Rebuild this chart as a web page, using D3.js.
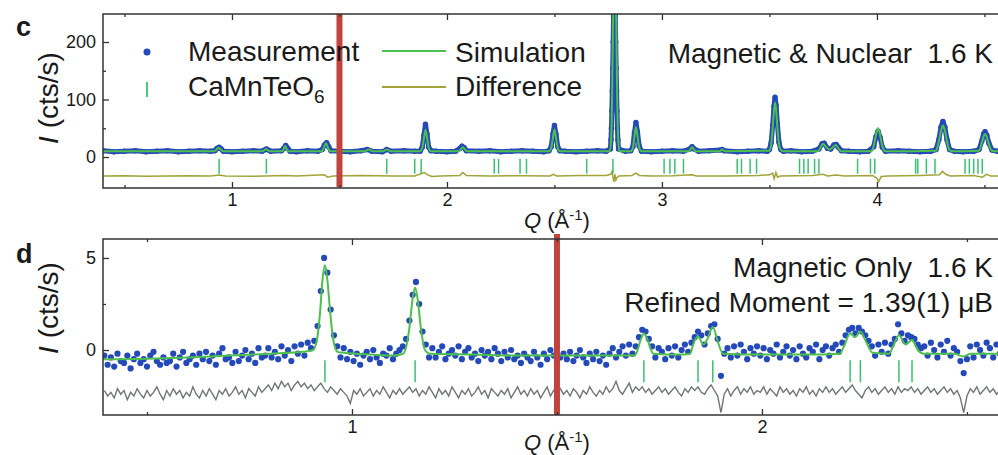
<!DOCTYPE html>
<html>
<head>
<meta charset="utf-8">
<script src="https://cdn.jsdelivr.net/npm/d3@7"></script>
<style>
body { margin: 0; background: #fff; }
svg text { font-family: "Liberation Sans", Arial, sans-serif; fill: #1a1a1a; }
</style>
</head>
<body>
<script>
// ---- panel c : magnetic & nuclear, [Q, I] pairs ----
var topObs = [[0.40,11],[0.45,9],[0.50,10],[0.55,11],[0.60,9],[0.65,10],[0.70,11],[0.75,9],[0.80,10],[0.85,11],[0.90,10],
  [0.92,11],[0.93,15],[0.94,17],[0.95,14],[0.96,10],[1.00,9],[1.05,10],[1.10,11],[1.14,10],[1.15,12],[1.16,14],[1.17,12],[1.18,10],
  [1.23,11],[1.24,15],[1.25,20],[1.26,15],[1.27,10],[1.30,9],[1.35,11],[1.40,10],[1.42,13],[1.43,21],[1.44,25],[1.45,18],[1.46,11],
  [1.50,10],[1.55,9],[1.60,11],[1.63,13],[1.65,10],[1.70,9],[1.72,13],[1.74,10],[1.80,11],[1.85,10],
  [1.875,10],[1.885,17],[1.893,38],[1.90,57],[1.907,40],[1.915,17],[1.925,11],
  [1.95,10],[2.00,9],[2.04,10],[2.06,15],[2.07,19],[2.08,16],[2.09,11],
  [2.15,10],[2.20,11],[2.25,9],[2.30,10],[2.35,11],[2.40,10],[2.45,9],[2.475,11],
  [2.485,18],[2.493,40],[2.50,55],[2.507,40],[2.515,18],[2.525,11],
  [2.55,10],[2.60,9],[2.65,10],[2.70,11],[2.74,10],
  [2.760,14],[2.763,30],[2.765,50],[2.767,80],[2.769,115],[2.771,155],[2.773,200],[2.775,245],[2.778,300],
  [2.781,300],[2.783,245],[2.785,200],[2.787,155],[2.789,115],[2.791,80],[2.793,50],[2.795,30],[2.798,14],
  [2.83,10],[2.855,11],[2.865,18],[2.872,42],[2.879,60],[2.886,44],[2.894,19],[2.905,10],
  [2.95,9],[3.00,10],[3.05,11],[3.10,10],[3.13,14],[3.14,18],[3.15,14],[3.17,10],[3.22,11],[3.27,12],[3.28,13],[3.29,11],
  [3.35,9],[3.40,10],[3.45,11],[3.49,10],
  [3.50,13],[3.508,25],[3.515,55],[3.521,88],[3.526,104],[3.531,90],[3.537,58],[3.544,26],[3.553,13],[3.565,10],
  [3.60,11],[3.65,9],[3.70,10],[3.73,14],[3.745,23],[3.755,24],[3.77,15],[3.785,14],[3.80,21],[3.81,22],[3.82,17],[3.835,11],
  [3.87,10],[3.92,9],[3.96,10],[3.985,18],[3.995,35],[4.005,45],[4.015,34],[4.025,17],[4.04,10],
  [4.10,11],[4.15,10],[4.20,9],[4.25,10],[4.275,13],[4.288,30],[4.298,52],[4.307,62],[4.316,52],[4.326,30],[4.338,13],[4.36,10],
  [4.40,9],[4.45,10],[4.475,13],[4.488,28],[4.496,40],[4.503,44],[4.511,38],[4.521,24],[4.535,12],[4.56,10],[4.62,10]];

var topSim = [[0.40,10],[0.915,10],[0.928,13],[0.938,16],[0.948,13],[0.96,10],
  [1.142,10],[1.15,12],[1.158,14],[1.166,12],[1.175,10],
  [1.232,10],[1.24,14],[1.247,19],[1.254,14],[1.262,10],
  [1.418,10],[1.428,17],[1.437,24],[1.446,17],[1.456,10],
  [1.618,10],[1.628,12],[1.636,13],[1.644,12],[1.654,10],
  [1.705,10],[1.713,12],[1.72,13],[1.727,12],[1.735,10],
  [1.875,10],[1.885,16],[1.893,33],[1.90,47],[1.907,34],[1.915,16],[1.925,10],
  [2.055,10],[2.066,14],[2.074,17],[2.082,14],[2.093,10],
  [2.475,10],[2.485,16],[2.493,34],[2.50,48],[2.507,34],[2.515,16],[2.525,10],
  [2.758,10],[2.764,35],[2.768,100],[2.772,220],[2.776,320],[2.78,340],[2.784,320],[2.788,220],[2.792,100],[2.796,35],[2.802,10],
  [2.855,10],[2.865,16],[2.872,36],[2.879,52],[2.886,37],[2.894,17],[2.905,10],
  [3.125,10],[3.133,14],[3.14,17],[3.147,14],[3.157,10],
  [3.268,10],[3.275,12],[3.28,13],[3.285,12],[3.293,10],
  [3.50,11],[3.508,22],[3.515,50],[3.521,80],[3.526,95],[3.531,82],[3.537,52],[3.544,24],[3.553,12],[3.565,10],
  [3.725,10],[3.737,16],[3.749,23],[3.76,19],[3.78,13],[3.795,17],[3.809,21],[3.82,15],[3.835,10],
  [3.975,10],[3.985,19],[3.995,38],[4.005,50],[4.015,38],[4.025,19],[4.04,10],
  [4.275,11],[4.288,27],[4.298,46],[4.307,55],[4.316,46],[4.326,27],[4.338,12],[4.355,10],
  [4.475,11],[4.488,25],[4.496,36],[4.503,40],[4.511,35],[4.521,22],[4.535,11],[4.56,10],[4.62,10]];

var topDiff = [[0.40,-33],[0.50,-32.5],[0.60,-33.5],[0.70,-33],[0.80,-32.5],[0.90,-33],[0.94,-31.5],[0.97,-33],[1.10,-33.5],
  [1.25,-32],[1.30,-33],[1.43,-31],[1.445,-35],[1.47,-33],[1.60,-32],[1.75,-33],[1.85,-33],[1.895,-27],[1.91,-31],[1.93,-34],
  [1.97,-33],[2.06,-32],[2.074,-27],[2.09,-32],[2.20,-33],[2.35,-32.5],[2.48,-33],[2.495,-30],[2.51,-33],[2.62,-32],[2.74,-32],
  [2.762,-30],[2.768,-25],[2.773,-37],[2.777,-43],[2.781,-30],[2.786,-40],[2.79,-36],[2.80,-33],[2.86,-32],[2.879,-28],[2.895,-32],
  [2.95,-33],[3.05,-32.5],[3.14,-31],[3.16,-33],[3.30,-33],[3.45,-32],[3.50,-31],[3.515,-28],[3.522,-38],[3.53,-27],[3.538,-35],
  [3.55,-33],[3.70,-32],[3.75,-30],[3.77,-33],[3.81,-31.5],[3.85,-33],[3.98,-32],[4.00,-37],[4.008,-43],[4.02,-34],[4.05,-33],
  [4.20,-32],[4.29,-31],[4.305,-25],[4.32,-30],[4.34,-33],[4.45,-32],[4.49,-35],[4.51,-30],[4.53,-33],[4.62,-33]];

var topRefl = [0.94,1.16,1.72,1.85,1.88,2.22,2.24,2.34,2.37,2.65,2.772,3.01,3.037,3.06,3.10,3.35,3.37,3.41,3.44,
  3.64,3.66,3.68,3.71,3.73,3.91,3.97,3.99,4.18,4.19,4.23,4.27,4.41,4.43,4.45,4.47,4.49];

// ---- panel d : magnetic only, measured on a constant Q step ----
var botQ0 = 0.396, botStep = 0.008;
var botObs = [
  -0.3,-0.8,-0.4,-0.9,-0.2,-0.6,-0.7,-0.3,-1.0,-0.5,
  -0.2,-0.7,-0.5,-0.9,-0.3,-0.1,-0.6,-0.8,-0.4,-0.7,
  -0.6,-0.2,-0.9,-0.4,-0.1,-0.7,-0.5,-0.3,-0.8,-0.2,
  -0.5,-0.1,-0.6,-0.3,-0.8,-0.2,0.1,-0.5,-0.4,-0.7,
  -0.1,-0.6,-0.3,0.0,-0.5,-0.2,-0.7,0.1,-0.4,-0.3,
  0.1,-0.4,-0.1,-0.5,0.2,-0.3,0.0,-0.6,0.2,-0.2,
  0.3,-0.3,0.4,0.1,0.5,1.3,3.2,5.0,4.2,2.2,
  0.8,0.2,-0.4,0.1,-0.5,-0.1,-0.6,-0.2,-0.8,-0.3,
  -0.1,-0.5,0.0,-0.4,-0.7,-0.2,-0.3,0.1,-0.5,-0.2,
  0.0,0.2,0.6,1.6,3.0,3.7,2.5,1.0,0.3,-0.4,
  0.1,-0.4,-0.1,0.2,-0.5,-0.2,0.0,-0.3,0.2,-0.5,
  -0.1,0.1,-0.4,-0.2,-0.6,0.0,-0.3,-0.1,-0.5,0.1,
  -0.2,-0.6,-0.1,-0.4,0.0,-0.5,-0.3,-0.7,-0.2,-0.4,
  -0.6,-0.1,-0.4,-0.8,-0.2,-0.5,0.0,-0.3,-0.7,-0.4,
  -0.2,-0.5,-0.1,-0.6,-0.3,0.0,-0.4,-0.7,-0.2,-0.5,
  -0.1,-0.6,-0.3,-0.8,-0.2,0.1,-0.4,-0.1,0.2,-0.3,
  0.3,-0.2,0.2,0.7,1.1,1.0,0.6,0.2,-0.4,0.1,
  -0.1,-0.5,0.1,-0.3,0.2,-0.4,0.0,0.3,-0.1,0.4,
  0.7,1.0,0.8,0.3,0.9,1.3,1.4,0.6,-1.4,-0.2,
  0.1,-0.4,0.2,-0.3,0.3,-0.1,-0.5,0.1,-0.2,0.2,
  -0.3,0.1,-0.5,0.0,-0.2,0.3,-0.4,-0.1,0.2,-0.3,
  0.0,-0.5,0.2,-0.2,-0.4,0.1,-0.1,0.3,-0.5,0.0,
  0.2,-0.3,0.1,0.3,-0.1,0.4,0.8,1.1,1.2,0.9,
  1.2,1.0,0.8,0.5,0.2,-0.3,0.3,-0.1,0.4,-0.2,
  0.3,0.6,1.4,0.9,0.5,0.8,0.7,0.6,0.3,0.1,
  0.2,-0.3,0.4,0.0,-0.4,0.3,-0.1,0.5,-0.3,0.1,
  -0.1,-0.6,-1.25,-0.5,0.2,-0.4,0.3,0.0,-0.3,0.4,
  0.1,-0.4,0.3,-0.2,0.4,-0.1,0.2];

var botDiff = [
  -2.2,-2.5,-2.3,-2.6,-2.1,-2.4,-2.2,-2.7,-2.3,-2.5,
  -2.1,-2.4,-2.6,-2.2,-2.5,-2.3,-2.0,-2.4,-2.7,-2.2,
  -2.5,-2.1,-2.4,-2.2,-2.6,-2.3,-2.5,-2.0,-2.4,-2.6,
  -2.2,-2.5,-2.1,-2.4,-2.7,-2.2,-2.4,-2.1,-2.5,-2.3,
  -2.0,-2.4,-2.2,-2.6,-2.1,-2.3,-2.5,-2.0,-2.3,-2.1,
  -1.9,-2.2,-1.8,-2.1,-1.7,-2.0,-1.8,-2.2,-1.9,-1.7,
  -2.0,-1.8,-2.1,-1.9,-2.2,-2.0,-1.8,-2.1,-2.3,-2.0,
  -2.2,-2.4,-2.1,-2.3,-2.5,-2.9,-2.2,-2.4,-2.1,-2.5,
  -2.3,-2.1,-2.5,-2.2,-2.4,-2.0,-2.3,-2.6,-2.2,-2.4,
  -2.1,-2.4,-2.2,-2.0,-2.3,-2.1,-2.5,-2.2,-2.4,-2.0,
  -2.3,-2.6,-2.1,-2.4,-2.2,-2.5,-2.0,-2.3,-2.6,-2.2,
  -2.4,-2.1,-2.5,-2.3,-2.0,-2.4,-2.2,-2.6,-2.1,-2.3,
  -2.5,-2.2,-2.4,-2.1,-2.6,-2.3,-2.0,-2.4,-2.2,-2.5,
  -2.1,-2.4,-2.2,-2.6,-2.3,-2.0,-2.5,-2.2,-2.4,-2.1,
  -2.4,-2.2,-2.5,-2.1,-2.3,-2.6,-2.2,-2.4,-2.0,-2.3,
  -2.5,-2.2,-2.4,-2.0,-2.3,-2.1,-1.7,-2.2,-2.4,-2.1,
  -1.8,-2.3,-2.0,-2.2,-2.0,-2.3,-2.1,-2.4,-2.2,-2.0,
  -2.3,-2.1,-2.4,-2.2,-2.0,-2.3,-2.5,-2.1,-2.3,-2.0,
  -2.2,-2.0,-2.3,-2.4,-2.1,-1.9,-2.2,-2.5,-3.4,-2.4,
  -2.1,-2.5,-2.2,-2.0,-2.4,-2.1,-2.3,-2.0,-2.4,-2.2,
  -2.3,-2.0,-2.4,-2.1,-2.3,-2.5,-2.0,-2.3,-2.1,-2.4,
  -2.2,-2.5,-2.1,-2.3,-2.0,-2.4,-2.2,-2.5,-2.1,-2.3,
  -2.0,-2.3,-2.1,-2.4,-2.2,-2.0,-2.3,-2.1,-1.9,-2.2,
  -2.4,-2.6,-2.2,-2.0,-2.3,-2.1,-2.4,-2.2,-2.0,-2.3,
  -2.1,-2.4,-2.0,-2.3,-2.1,-2.2,-2.0,-2.3,-2.1,-2.4,
  -2.2,-2.0,-2.3,-2.1,-2.4,-2.2,-2.0,-2.3,-2.1,-2.4,
  -2.2,-2.6,-3.4,-2.5,-2.1,-2.3,-2.0,-2.4,-2.2,-2.0,
  -2.3,-2.1,-2.4,-2.2,-2.0,-2.3,-2.1];

var botSim = [[0.393,-0.5],[0.5,-0.47],[0.6,-0.4],[0.7,-0.3],[0.8,-0.2],[0.88,-0.1],[0.905,0.0],
  [0.915,0.6],[0.922,2.0],[0.928,3.8],[0.934,4.6],[0.94,3.8],[0.947,2.0],[0.954,0.6],[0.965,-0.1],
  [0.98,-0.15],[1.05,-0.25],[1.10,-0.3],[1.125,-0.2],
  [1.13,0.0],[1.14,1.2],[1.148,2.8],[1.154,3.4],[1.16,2.8],[1.168,1.2],[1.178,0.0],[1.19,-0.2],
  [1.3,-0.25],[1.4,-0.3],[1.5,-0.3],[1.6,-0.3],[1.69,-0.3],
  [1.695,-0.1],[1.705,0.6],[1.712,0.9],[1.72,0.6],[1.735,-0.2],
  [1.80,-0.25],[1.825,-0.2],[1.832,0.3],[1.844,0.75],[1.857,0.3],[1.867,0.6],[1.88,1.25],[1.893,0.4],[1.905,-0.2],
  [2.0,-0.25],[2.1,-0.25],[2.19,-0.2],
  [2.20,0.2],[2.215,0.9],[2.227,0.7],[2.24,1.0],[2.255,0.4],[2.27,-0.15],
  [2.31,-0.2],[2.322,0.3],[2.334,0.8],[2.35,0.3],[2.366,0.55],[2.38,0.0],[2.395,-0.2],
  [2.47,-0.2],[2.49,-0.35],[2.51,-0.2],[2.605,-0.2]];

var botRefl = [0.934,1.154,1.712,1.844,1.88,2.215,2.24,2.334,2.366];

// vertical marker bar drawn over both panels
var markQ = 1.5;

var topXMajor = [1, 2, 3, 4], topXMinor = [0.5, 1.5, 2.5, 3.5, 4.5];
var topYMajor = [0, 100, 200], topYMinor = [50, 150];
var botXMajor = [1, 2], botXMinor = [0.5, 1.5, 2.5];
var botYMajor = [0, 5], botYMinor = [2.5];

var BLUE = "#2449b8", GREEN = "#4dbf4d", TICKGREEN = "#38c172",
    OLIVE = "#a3a33a", GREY = "#6f7773", RED = "#c0433e";

var svg = d3.select("body").append("svg").attr("width", 998).attr("height", 455);

var xTop = d3.scaleLinear().domain([0.4, 4.619]).range([103, 1010]);
var yTop = d3.scaleLinear().domain([-53.9, 248.7]).range([188, 14]);
var xBot = d3.scaleLinear().domain([0.3927, 2.605]).range([103, 1010]);
var yBot = d3.scaleLinear().domain([-3.53, 6.03]).range([415, 239]);

function plotArea(x, y, id) {
    svg.append("clipPath").attr("id", id).append("rect")
        .attr("x", x.range()[0]).attr("y", y.range()[1])
        .attr("width", x.range()[1] - x.range()[0])
        .attr("height", y.range()[0] - y.range()[1]);
    return svg.append("g").attr("clip-path", "url(#" + id + ")");
}

function lineFor(x, y) {
    return d3.line().x(function (d) { return x(d[0]); }).y(function (d) { return y(d[1]); });
}

function drawAxes(x, y, xMaj, xMin, yMaj, yMin) {
    var top = y.range()[1], bot = y.range()[0], left = x.range()[0];
    var list = [
        [d3.axisBottom(x).tickValues(xMaj).tickSize(-6).tickPadding(5).tickFormat(d3.format("d")), "translate(0," + bot + ")"],
        [d3.axisBottom(x).tickValues(xMin).tickSize(-3).tickFormat(""), "translate(0," + bot + ")"],
        [d3.axisTop(x).tickValues(xMaj).tickSize(-6).tickFormat(""), "translate(0," + top + ")"],
        [d3.axisTop(x).tickValues(xMin).tickSize(-3).tickFormat(""), "translate(0," + top + ")"],
        [d3.axisLeft(y).tickValues(yMaj).tickSize(-6).tickPadding(7).tickFormat(d3.format("d")), "translate(" + left + ",0)"],
        [d3.axisLeft(y).tickValues(yMin).tickSize(-3).tickFormat(""), "translate(" + left + ",0)"]
    ];
    list.forEach(function (a) {
        var g = svg.append("g").attr("transform", a[1]).call(a[0]);
        g.select(".domain").remove();
        g.selectAll("line").attr("stroke", "#333").attr("stroke-width", 1.3);
        g.selectAll("text").attr("font-size", 18).attr("fill", "#1a1a1a")
            .attr("font-family", "'Liberation Sans', Arial, sans-serif");
    });
    svg.append("rect")
        .attr("x", left).attr("y", top)
        .attr("width", x.range()[1] - left).attr("height", bot - top)
        .attr("fill", "none").attr("stroke", "#333").attr("stroke-width", 1.5);
}

// ---------- panel c ----------
var pc = plotArea(xTop, yTop, "clipTop");
var lt = lineFor(xTop, yTop);

pc.append("path").datum(topDiff).attr("d", lt)
    .attr("fill", "none").attr("stroke", OLIVE).attr("stroke-width", 1.5);

pc.selectAll(".reflT").data(topRefl).enter().append("line")
    .attr("x1", function (d) { return xTop(d); }).attr("x2", function (d) { return xTop(d); })
    .attr("y1", yTop(-3)).attr("y2", yTop(-29))
    .attr("stroke", TICKGREEN).attr("stroke-width", 1.5);

pc.append("path").datum(topObs).attr("d", lt)
    .attr("fill", "none").attr("stroke", BLUE).attr("stroke-width", 5)
    .attr("stroke-linejoin", "round");
pc.selectAll(".obsT").data(topObs).enter().append("circle")
    .attr("cx", function (d) { return xTop(d[0]); })
    .attr("cy", function (d) { return yTop(d[1]); })
    .attr("r", 2.7).attr("fill", BLUE);

pc.append("path").datum(topSim).attr("d", lt.curve(d3.curveMonotoneX))
    .attr("fill", "none").attr("stroke", GREEN).attr("stroke-width", 2);

svg.append("line")
    .attr("x1", xTop(markQ)).attr("x2", xTop(markQ))
    .attr("y1", yTop.range()[1]).attr("y2", yTop.range()[0] - 1)
    .attr("stroke", RED).attr("stroke-width", 6);

drawAxes(xTop, yTop, topXMajor, topXMinor, topYMajor, topYMinor);

// ---------- panel d ----------
var pd = plotArea(xBot, yBot, "clipBot");
var lb = lineFor(xBot, yBot);
var botObsPts = botObs.map(function (v, i) { return [botQ0 + i * botStep, v]; });
var botDiffPts = botDiff.map(function (v, i) { return [botQ0 + i * botStep, v]; });

pd.append("path").datum(botDiffPts).attr("d", lb)
    .attr("fill", "none").attr("stroke", GREY).attr("stroke-width", 1.4);

pd.selectAll(".reflB").data(botRefl).enter().append("line")
    .attr("x1", function (d) { return xBot(d); }).attr("x2", function (d) { return xBot(d); })
    .attr("y1", yBot(-0.55)).attr("y2", yBot(-1.75))
    .attr("stroke", TICKGREEN).attr("stroke-width", 1.5);

pd.selectAll(".obsB").data(botObsPts).enter().append("circle")
    .attr("cx", function (d) { return xBot(d[0]); })
    .attr("cy", function (d) { return yBot(d[1]); })
    .attr("r", 3.1).attr("fill", BLUE);

pd.append("path").datum(botSim).attr("d", lb.curve(d3.curveMonotoneX))
    .attr("fill", "none").attr("stroke", GREEN).attr("stroke-width", 2);

svg.append("line")
    .attr("x1", xBot(markQ)).attr("x2", xBot(markQ))
    .attr("y1", yBot.range()[1] - 5).attr("y2", yBot.range()[0])
    .attr("stroke", RED).attr("stroke-width", 6);

drawAxes(xBot, yBot, botXMajor, botXMinor, botYMajor, botYMinor);

// ---------- text ----------
function label(x, y, size) {
    return svg.append("text").attr("x", x).attr("y", y).attr("font-size", size)
        .style("white-space", "pre");
}

label(16, 36, 27).attr("font-weight", "bold").text("c");
label(16, 263, 27).attr("font-weight", "bold").text("d");

[[98, 58], [308, 58]].forEach(function (p) {
    var t = svg.append("text").attr("font-size", 28).attr("text-anchor", "middle")
        .attr("transform", "translate(" + p[1] + "," + p[0] + ") rotate(-90)");
    t.append("tspan").attr("font-style", "italic").text("I");
    t.append("tspan").text(" (cts/s)");
});

[228, 450].forEach(function (yy) {
    var t = label(524, yy, 22);
    t.append("tspan").attr("font-style", "italic").text("Q");
    t.append("tspan").text(" (Å");
    t.append("tspan").attr("font-size", 15).attr("dy", -8).text("-1");
    t.append("tspan").attr("dy", 8).text(")");
});

// legend
svg.append("circle").attr("cx", 147).attr("cy", 52).attr("r", 3.5).attr("fill", BLUE);
label(188, 61, 28).text("Measurement");
svg.append("line").attr("x1", 147).attr("x2", 147).attr("y1", 82).attr("y2", 97)
    .attr("stroke", TICKGREEN).attr("stroke-width", 1.8);
var cm = label(188, 96, 28).text("CaMnTeO");
cm.append("tspan").attr("font-size", 19).attr("dy", 7).text("6");
svg.append("line").attr("x1", 382).attr("x2", 446).attr("y1", 51).attr("y2", 51)
    .attr("stroke", GREEN).attr("stroke-width", 2);
label(455, 62, 28).text("Simulation");
svg.append("line").attr("x1", 382).attr("x2", 446).attr("y1", 87).attr("y2", 87)
    .attr("stroke", OLIVE).attr("stroke-width", 2);
label(455, 96, 28).text("Difference");

label(993, 63, 28).attr("text-anchor", "end").text("Magnetic & Nuclear  1.6 K");
label(993, 277, 28).attr("text-anchor", "end").text("Magnetic Only  1.6 K");
label(993, 312, 28).attr("text-anchor", "end").text("Refined Moment = 1.39(1) μB");
</script>
</body>
</html>
